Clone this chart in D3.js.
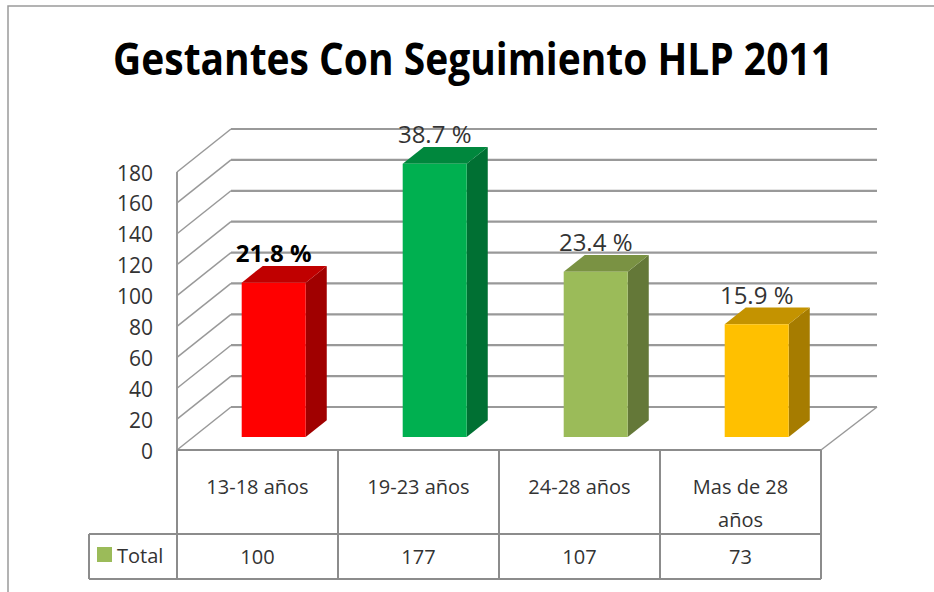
<html>
  <head>
    <meta charset="utf-8">
    <title>Gestantes Con Seguimiento HLP 2011</title>
    <script src="https://cdn.jsdelivr.net/npm/d3@7"></script>
    <style>
      body { margin: 0; background: #fff; }
      svg text { font-family: "Liberation Sans Narrow", "Open Sans", "Liberation Sans", sans-serif; }
    </style>
  </head>
  <body>
    <svg></svg>
    <script>
      // data
      const categories = ["13-18 años", "19-23 años", "24-28 años", "Mas de 28 años"];
      const categoryLines = [["13-18 años"], ["19-23 años"], ["24-28 años"], ["Mas de 28", "años"]];
      const totals = [100, 177, 107, 73];
      const percentLabels = ["21.8 %", "38.7 %", "23.4 %", "15.9 %"];
      const yTicks = [0, 20, 40, 60, 80, 100, 120, 140, 160, 180];
      const seriesName = "Total";

      // bar colours: front, top, side
      const palette = [
        ["#ff0000", "#c00000", "#a00000"],
        ["#00b050", "#00873d", "#007033"],
        ["#9bbb59", "#7a9243", "#647838"],
        ["#ffc000", "#c49300", "#a67c00"]
      ];

      const width = 934, height = 592;
      const left = 177, right = 821, floorY = 450;
      const depthX = 54, depthY = 43;
      const barFront = 0.3, barBack = 0.69;
      const gridColor = "#999";

      const svg = d3.select("svg").attr("width", width).attr("height", height);

      const x = d3.scaleBand().domain(categories).range([left, right]).padding(0);
      const y = d3.scaleLinear().domain([0, 180]).range([0, 278]);

      // point on a plane at depth t
      function pt(px, v, t) {
        return [px + t * depthX, floorY - y(v) - t * depthY];
      }

      // frame
      svg.append("path").attr("d", d3.line()([[8, height], [8, 6], [width, 6]]))
        .attr("fill", "none").attr("stroke", "#9a9a9a").attr("stroke-width", 1.5);

      // title, squeezed horizontally to the width of the original
      const title = svg.append("text")
        .text("Gestantes Con Seguimiento HLP 2011")
        .attr("text-anchor", "middle")
        .style("font-size", "45px").style("font-weight", "bold").attr("fill", "#000");
      const titleW = title.node().getComputedTextLength();
      title.attr("transform", "translate(473,75) scale(" + Math.min(1, 720 / titleW) + ",1)");

      // walls and gridlines
      const grid = svg.append("g").attr("fill", "none").attr("stroke", gridColor);
      yTicks.forEach(function(v) {
        grid.append("path").attr("d", d3.line()([pt(left, v, 0), pt(left, v, 1)])).attr("stroke-width", 1.5);
        grid.append("path").attr("d", d3.line()([pt(left, v, 1), [right + depthX + 2, pt(left, v, 1)[1]]])).attr("stroke-width", 2.2);
      });
      grid.append("path").attr("d", d3.line()([pt(left, 0, 0), pt(left, 180, 0)])).attr("stroke-width", 2);
      grid.append("path").attr("d", d3.line()([pt(right, 0, 0), [right + depthX + 2, pt(left, 0, 1)[1]]])).attr("stroke-width", 1.5);

      // y axis labels
      svg.append("g").selectAll("text").data(yTicks).enter().append("text")
        .text(function(d) { return d; })
        .attr("x", 153).attr("y", function(d) { return pt(left, d, 0)[1] + 1; })
        .attr("dy", "0.36em").attr("text-anchor", "end")
        .style("font-size", "21px").attr("fill", "#333");

      // bars
      const barW = 64;
      const bars = svg.append("g").selectAll("g").data(totals).enter().append("g");
      bars.each(function(v, i) {
        const g = d3.select(this);
        const cx = x(categories[i]) + x.bandwidth() / 2;
        const x0 = cx - barW / 2, x1 = cx + barW / 2;
        const fbl = pt(x0, 0, barFront), fbr = pt(x1, 0, barFront);
        const ftl = pt(x0, v, barFront), ftr = pt(x1, v, barFront);
        const btl = pt(x0, v, barBack), btr = pt(x1, v, barBack), bbr = pt(x1, 0, barBack);
        g.append("path").attr("d", d3.line()([ftr, btr, bbr, fbr])).attr("fill", palette[i][2]);
        g.append("path").attr("d", d3.line()([ftl, btl, btr, ftr])).attr("fill", palette[i][1]);
        g.append("path").attr("d", d3.line()([fbl, ftl, ftr, fbr])).attr("fill", palette[i][0]);
        g.append("text")
          .text(percentLabels[i])
          .attr("x", cx + barFront * depthX)
          .attr("y", btl[1] - 4)
          .attr("text-anchor", "middle")
          .style("font-size", "24px")
          .style("font-weight", i === 0 ? "bold" : "normal")
          .attr("fill", i === 0 ? "#000" : "#333");
      });

      // data table
      const table = svg.append("g").attr("fill", "none").attr("stroke", "#8c8c8c").attr("stroke-width", 2);
      const rowTop = floorY, rowMid = 534, rowBottom = 579, legendLeft = 89;
      table.append("path").attr("d", d3.line()([[left, rowTop], [right, rowTop]]));
      table.append("path").attr("d", d3.line()([[legendLeft, rowMid], [right, rowMid]]));
      table.append("path").attr("d", d3.line()([[legendLeft, rowBottom], [right, rowBottom]]));
      table.append("path").attr("d", d3.line()([[legendLeft, rowMid], [legendLeft, rowBottom]]));
      categories.concat([null]).forEach(function(c) {
        const px = c === null ? right : x(c);
        table.append("path").attr("d", d3.line()([[px, rowTop], [px, rowBottom]]));
      });

      const cells = svg.append("g");
      categoryLines.forEach(function(lines, i) {
        const cx = x(categories[i]) + x.bandwidth() / 2;
        lines.forEach(function(line, j) {
          cells.append("text").text(line)
            .attr("x", cx).attr("y", 494 + j * 33)
            .attr("text-anchor", "middle")
            .style("font-size", "20px").attr("fill", "#333");
        });
        cells.append("text").text(totals[i])
          .attr("x", cx).attr("y", 564)
          .attr("text-anchor", "middle")
          .style("font-size", "20px").attr("fill", "#333");
      });
      cells.append("rect").attr("x", 97).attr("y", 547).attr("width", 15).attr("height", 15).attr("fill", "#9bbb59");
      cells.append("text").text(seriesName)
        .attr("x", 117).attr("y", 563)
        .style("font-size", "20px").attr("fill", "#333");
    </script>
  </body>
</html>
